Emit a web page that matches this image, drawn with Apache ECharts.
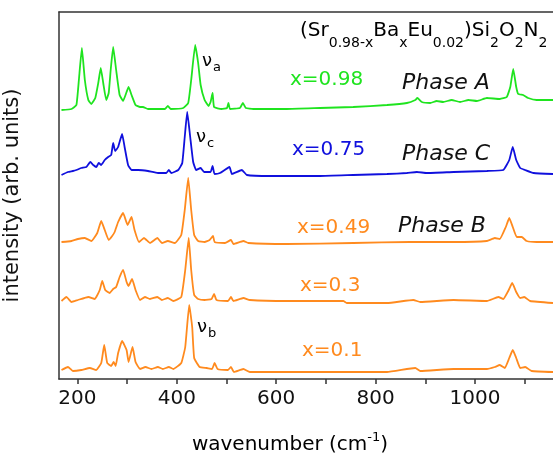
<!DOCTYPE html>
<html>
<head>
<meta charset="utf-8">
<title>Raman spectra</title>
<script src="https://cdn.jsdelivr.net/npm/echarts@6/dist/echarts.min.js"></script>
<style>
  html, body { margin: 0; padding: 0; background: #fff; }
  #main { width: 553px; height: 456px; }
</style>
</head>
<body>
<div id="main"></div>
<script>
// [wavenumber cm-1, intensity arb. units] — spectra already offset as drawn
var specX098 = [[168,269],[188,270],[198,274],[203,299],[209,331],[215,299],[222,279],[228,275],[236,281],[242,296],[247,311],[252,296],[258,279],[263,286],[267,309],[272,332],[278,309],[285,284],[292,278],[299,287],[303,292],[309,284],[317,274],[326,272],[332,272],[342,270],[376,270],[382,273],[388,270],[413,271],[423,276],[429,299],[437,334],[443,316],[448,294],[456,279],[464,273],[468,277],[472,286],[475,272],[490,270],[501,271],[504,276],[507,270],[527,271],[533,276],[539,271],[554,270],[621,270],[688,271],[755,272],[823,274],[863,276],[880,279],[884,281],[893,277],[910,276],[923,278],[936,277],[953,279],[970,277],[987,279],[1004,278],[1024,281],[1050,280],[1064,282],[1071,292],[1077,310],[1083,292],[1087,285],[1097,284],[1107,281],[1124,279],[1157,279]];
var specX075 = [[168,204],[181,207],[191,208],[198,209],[208,211],[218,212],[226,217],[232,214],[238,212],[243,216],[248,214],[255,219],[262,222],[268,224],[272,236],[276,228],[282,232],[290,245],[295,232],[302,214],[309,209],[322,209],[342,208],[362,206],[379,206],[384,209],[389,206],[403,209],[411,216],[416,242],[421,267],[427,242],[433,217],[439,209],[448,211],[455,207],[468,207],[472,213],[476,205],[487,206],[506,212],[511,205],[531,209],[541,204],[588,203],[688,203],[755,204],[823,205],[863,206],[883,207],[903,206],[957,207],[1024,208],[1057,209],[1069,219],[1076,232],[1083,219],[1091,211],[1101,209],[1118,206],[1157,205]];
var specX049 = [[168,137],[188,138],[201,140],[215,141],[228,138],[240,146],[248,158],[255,149],[263,139],[270,143],[275,147],[282,157],[292,166],[301,154],[309,162],[315,149],[324,137],[334,141],[346,136],[361,141],[370,136],[382,138],[396,136],[409,144],[416,169],[423,201],[429,169],[435,144],[443,138],[456,137],[466,139],[473,143],[476,137],[497,136],[509,139],[514,135],[534,138],[544,136],[621,135],[755,136],[869,137],[957,137],[1024,138],[1040,141],[1050,140],[1062,152],[1069,161],[1076,152],[1084,142],[1094,142],[1104,138],[1124,137],[1157,137]];
var specX030 = [[168,78],[178,82],[188,77],[201,79],[222,82],[235,80],[245,89],[250,98],[256,89],[265,86],[272,90],[278,92],[285,102],[292,109],[299,97],[303,93],[310,100],[317,89],[326,79],[336,82],[346,80],[361,82],[370,79],[382,81],[393,78],[409,82],[417,109],[424,141],[429,109],[435,84],[443,80],[456,79],[470,80],[475,85],[480,79],[503,78],[509,82],[514,78],[534,81],[547,79],[621,78],[735,78],[742,76],[823,76],[876,79],[890,77],[957,79],[1024,78],[1047,82],[1057,80],[1068,89],[1075,96],[1083,87],[1091,81],[1099,82],[1111,78],[1157,76]];
var specX010 = [[168,9],[181,12],[191,8],[208,9],[225,11],[238,9],[248,16],[254,34],[260,16],[268,13],[273,17],[277,13],[282,26],[290,38],[299,29],[303,17],[311,32],[317,17],[326,10],[337,12],[349,10],[362,12],[372,10],[384,12],[393,10],[409,16],[417,32],[425,74],[431,52],[435,21],[446,12],[460,11],[471,10],[476,16],[482,10],[503,9],[509,12],[515,7],[534,10],[547,7],[688,7],[823,7],[880,11],[890,8],[957,10],[1024,10],[1040,12],[1050,14],[1060,11],[1069,21],[1076,29],[1083,21],[1091,11],[1101,12],[1114,8],[1157,7]];

var xTicks = [200, 300, 400, 500, 600, 700, 800, 900, 1000, 1100];
var xLabels = [200, 400, 600, 800, 1000];
var sampleNames = ['x=0.98', 'x=0.75', 'x=0.49', 'x=0.3', 'x=0.1'];
var phaseNames = ['Phase A', 'Phase C', 'Phase B'];

var GREEN = '#1fe41f', BLUE = '#1010dd', ORANGE = '#ff8a1e';
var FONT = '"DejaVu Sans", sans-serif';
var spectra = [specX098, specX075, specX049, specX030, specX010];
var colors = [GREEN, BLUE, ORANGE, ORANGE, ORANGE];

var myChart = echarts.init(document.getElementById('main'));

var series = spectra.map(function (d, i) {
    return {
        name: sampleNames[i],
        type: 'line',
        data: d,
        showSymbol: false,
        smooth: 0.12,
        lineStyle: { color: colors[i], width: 1.8 },
        itemStyle: { color: colors[i] },
        animation: false
    };
});

// label positions (px) for sample names and phases
var sampleLabelPos = [[290, 80], [292, 150], [297, 228], [300, 286], [302, 351]];
var phaseLabelPos = [[402, 83], [402, 154], [398, 226]];

var graphics = [];
sampleNames.forEach(function (t, i) {
    graphics.push({
        type: 'text', x: sampleLabelPos[i][0], y: sampleLabelPos[i][1],
        style: { text: t, fill: colors[i], font: '20px ' + FONT, verticalAlign: 'middle' }
    });
});
phaseNames.forEach(function (t, i) {
    graphics.push({
        type: 'text', x: phaseLabelPos[i][0], y: phaseLabelPos[i][1],
        style: { text: t, fill: '#111', font: 'italic 22px ' + FONT, verticalAlign: 'middle' }
    });
});
// nu labels
var nuPos = [[202, 61, 'a'], [196, 137, 'c'], [197, 327, 'b']];
nuPos.forEach(function (p) {
    graphics.push({
        type: 'text', x: p[0], y: p[1],
        style: {
            text: '{n|ν}{s|' + p[2] + '}', verticalAlign: 'middle',
            rich: {
                n: { fontFamily: FONT, fontSize: 18, color: '#111' },
                s: { fontFamily: FONT, fontSize: 13, color: '#111', padding: [14, 0, 0, 1] }
            }
        }
    });
});
// formula
graphics.push({
    type: 'text', x: 300, y: 31,
    style: {
        text: '{m|(Sr}{s|0.98-x}{m|Ba}{s|x}{m|Eu}{s|0.02}{m|)Si}{s|2}{m|O}{s|2}{m|N}{s|2}',
        verticalAlign: 'middle',
        rich: {
            m: { fontFamily: FONT, fontSize: 20, color: '#111' },
            s: { fontFamily: FONT, fontSize: 14, color: '#111', padding: [24, 0, 0, 0] }
        }
    }
});
// x axis name
graphics.push({
    type: 'text', x: 290, y: 445,
    style: {
        text: '{m|wavenumber (cm}{s|-1}{m|)}',
        align: 'center', verticalAlign: 'middle',
        rich: {
            m: { fontFamily: FONT, fontSize: 20, color: '#111' },
            s: { fontFamily: FONT, fontSize: 13, color: '#111', padding: [0, 0, 14, 0] }
        }
    }
});

var option = {
    animation: false,
    grid: { left: 59, right: 0, top: 12, bottom: 77, containLabel: false, outerBoundsMode: 'none' },
    xAxis: [{
        type: 'value', min: 163, max: 1157,
        axisLine: { lineStyle: { color: '#333', width: 1.5 } },
        axisTick: { show: true, customValues: xTicks, length: 5, lineStyle: { color: '#333', width: 1.5 } },
        axisLabel: {
            customValues: xLabels, fontSize: 20, fontFamily: FONT, color: '#111', margin: 10,
            formatter: function (v) { return String(v); }
        },
        splitLine: { show: false }
    }, {
        type: 'value', min: 163, max: 1157, position: 'top',
        axisLine: { show: true, lineStyle: { color: '#333', width: 1.5 } },
        axisTick: { show: false }, axisLabel: { show: false }, splitLine: { show: false }
    }],
    yAxis: {
        type: 'value', min: 0, max: 367,
        name: 'intensity (arb. units)', nameLocation: 'middle', nameGap: 36,
        nameTextStyle: { fontSize: 21, fontFamily: FONT, color: '#111' },
        axisLine: { show: true, lineStyle: { color: '#333', width: 1.5 } },
        axisTick: { show: false }, axisLabel: { show: false }, splitLine: { show: false }
    },
    graphic: graphics,
    series: series
};
myChart.setOption(option);
</script>
</body>
</html>
